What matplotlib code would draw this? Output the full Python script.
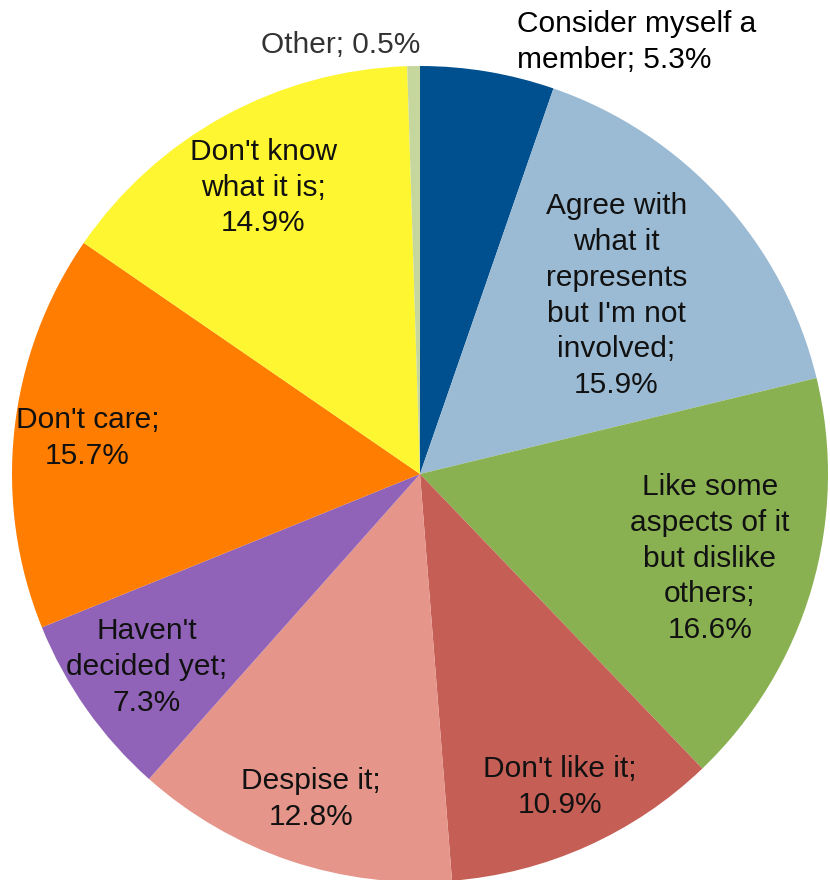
import numpy as np
import matplotlib
matplotlib.use("Agg")
import matplotlib.pyplot as plt

categories = ["Consider myself a\nmember", "Agree with\nwhat it\nrepresents\nbut I'm not\ninvolved",
              "Like some\naspects of it\nbut dislike\nothers", "Don't like it", "Despise it",
              "Haven't\ndecided yet", "Don't care", "Don't know\nwhat it is", "Other"]
shares = [5.3, 15.9, 16.6, 10.9, 12.8, 7.3, 15.7, 14.9, 0.5]
colors = ["#00508f", "#9bbad3", "#89b152", "#c55e55", "#e5958a",
          "#9063b8", "#ff7d00", "#fdf631", "#c6d79d"]

plt.rcParams['font.family'] = ['Liberation Sans', 'DejaVu Sans']

fig = plt.figure(figsize=(8.3, 8.8), dpi=100)
ax = fig.add_axes([0, 0, 1, 1])

cx, cy, r = 420, 406, 408
wedges, _ = ax.pie(shares, colors=colors, startangle=90, counterclock=False,
                   center=(cx, cy), radius=r, frame=True,
                   wedgeprops=dict(linewidth=0))
ax.set_xlim(0, 830)
ax.set_ylim(0, 880)
ax.set_aspect("equal")
ax.axis("off")

fs = 21.5
# radial position of each in-slice label (fraction of radius)
label_dist = [None, 0.65, 0.74, 0.84, 0.84, 0.82, 0.82, 0.80, None]
total = sum(shares)
start = 0.0
for name, val, d in zip(categories, shares, label_dist):
    mid = (start + val / 2) / total * 2 * np.pi
    start += val
    if d is None:
        continue
    x = cx + d * r * np.sin(mid)
    y = cy + d * r * np.cos(mid)
    ax.text(x, y, f"{name};\n{val:.1f}%", ha="center", va="center", fontsize=fs,
            linespacing=1.35, color="#111111")

ax.text(517, 838, f"{categories[0]}; {shares[0]:.1f}%", ha="left", va="center",
        fontsize=fs, linespacing=1.4, color="black")
ax.text(341, 835, f"{categories[-1]}; {shares[-1]:.1f}%", ha="center", va="center",
        fontsize=fs, color="#333333")

fig.savefig("out.png", dpi=100)
